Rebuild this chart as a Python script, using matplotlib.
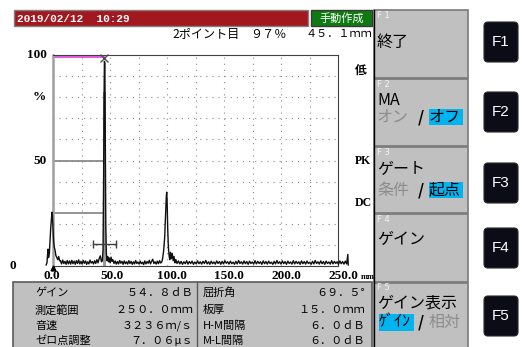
import matplotlib
matplotlib.use('Agg')
import matplotlib.pyplot as plt
from matplotlib.patches import Rectangle, FancyBboxPatch
from matplotlib.transforms import ScaledTranslation

plt.rcParams['font.family'] = ['Noto Sans CJK JP', 'DejaVu Sans']

# A-scan trace: beam path (mm) vs echo height (%)
trace_mm = [
    -6.0, -5.3, -4.8, -4.4, -3.9, -3.2, -2.6, -2.0, -1.4, -0.9, -0.5, 0.0, 0.5, 1.1, 1.8, 2.5, 3.3, 4.2, 5.0, 5.8,
    6.5, 7.5, 8.5, 9.5, 10.5, 11.5, 12.5, 13.5, 14.5, 15.5, 16.5, 17.5, 18.5, 19.5, 20.5, 21.5, 22.5, 23.5,
    24.5, 25.5, 26.5, 27.5, 28.5, 29.5, 30.5, 31.5, 32.5, 33.5, 34.5, 35.5, 36.5, 37.5, 38.5, 39.5, 40.5,
    41.5, 42.5, 43.3,
    43.9, 44.4, 44.8, 45.1, 45.5, 45.9, 46.3, 46.8, 47.4, 48.0, 48.7, 49.4, 50.1, 50.9, 51.7, 52.5,
    53.5, 54.5, 55.5, 56.5, 57.5, 58.5, 59.5, 60.5, 61.5, 62.5, 63.5, 64.5, 65.5, 66.5, 67.5, 68.5, 69.5,
    70.5, 71.5, 72.5, 73.5, 74.5, 75.5, 76.5, 77.5, 78.5, 79.5, 80.5, 81.5, 82.5, 83.5, 84.5, 85.5, 86.5,
    87.5, 88.5, 89.5, 90.5, 91.5, 92.5, 93.5, 94.5, 95.5,
    96.3, 97.2, 98.0, 98.7, 99.3, 99.7, 100.1, 100.6, 101.2, 101.8, 102.4, 103.1, 103.8, 104.6, 105.4,
    106.2, 107.0, 107.8,
    108.8, 110.0, 111.2, 112.4, 113.6, 114.8, 116.0, 117.2, 118.4, 119.6, 120.8, 122.0, 123.2, 124.4,
    125.6, 126.8, 128.0, 129.2, 130.4, 131.6, 132.8, 134.0, 135.2, 136.4, 137.6, 138.8, 140.0, 141.2,
    142.4, 143.6, 144.8, 146.0, 147.2, 148.4, 149.6, 150.8, 152.0, 153.2, 154.4, 155.6, 156.8, 158.0,
    159.2, 160.4, 161.6, 162.8, 164.0, 165.2, 166.4, 167.6, 168.8, 170.0, 171.2, 172.4, 173.6, 174.8,
    176.0, 177.2, 178.4, 179.6, 180.8, 182.0, 183.2, 184.4, 185.6, 186.8, 188.0, 189.2, 190.4, 191.6,
    192.8, 194.0, 195.2, 196.4, 197.6, 198.8, 200.0, 201.2, 202.4, 203.6, 204.8, 206.0, 207.2, 208.4,
    209.6, 210.8, 212.0, 213.2, 214.4, 215.6, 216.8, 218.0, 219.2, 220.4, 221.6, 222.8, 224.0, 225.2,
    226.4, 227.6, 228.8, 230.0, 231.2, 232.4, 233.6, 234.8, 236.0, 237.2, 238.4, 239.6, 240.8, 242.0,
    243.2, 244.4, 245.6, 246.8, 248.0, 249.2, 250.4, 251.6, 252.8, 254.0, 255.2, 256.4, 257.6, 258.6, 259.0,
]
trace_pct = [
    0.5, 1.5, 5.0, 8.0, 4.0, 6.0, 12.0, 18.0, 22.0, 25.5, 24.0, 18.0, 12.0, 9.0, 7.5, 5.0, 4.0, 3.0, 4.5, 2.5,
    2.5, 1.0, 2.8, 1.2, 2.2, 0.8, 2.6, 1.0, 2.4, 0.9, 2.7, 1.1, 2.3, 0.8, 2.5, 1.2, 2.9, 1.0,
    2.2, 0.9, 2.6, 1.3, 2.4, 0.8, 2.0, 1.0, 2.8, 1.4, 2.1, 1.0, 2.5, 1.2, 3.0, 1.5, 3.5,
    4.8, 2.0, 2.5,
    8.0, 40.0, 80.0, 97.0, 96.0, 60.0, 20.0, 6.0, 2.5, 4.5, 2.0, 3.8, 1.5, 4.2, 2.2, 3.0,
    1.2, 2.4, 0.9, 2.1, 1.0, 2.6, 1.3, 2.2, 0.8, 2.4, 1.1, 2.0, 0.9, 2.5, 1.2, 2.2, 0.8,
    2.0, 1.0, 2.6, 1.2, 1.9, 0.9, 2.3, 1.1, 1.8, 0.7, 2.4, 1.0, 2.1, 1.3, 2.7, 1.0, 2.2,
    3.2, 1.2, 2.0, 0.9, 2.3, 1.1, 2.5, 1.4, 2.0,
    4.0, 8.0, 14.0, 24.0, 32.0, 35.0, 31.0, 18.0, 9.0, 5.0, 3.0, 6.5, 3.5, 6.0, 2.5,
    4.5, 1.5, 3.0,
    1.2, 2.4, 1.0, 2.2, 0.8, 2.0, 1.1, 2.5, 0.9, 2.1, 1.2, 2.3, 0.8, 1.9,
    1.0, 2.4, 1.1, 2.0, 0.9, 2.2, 1.2, 2.6, 1.0, 2.0, 0.8, 2.3, 1.1, 1.9,
    0.9, 2.4, 1.2, 2.1, 0.8, 2.2, 1.0, 2.5, 1.3, 2.0, 0.9, 2.3, 1.1, 1.8,
    0.8, 2.2, 1.0, 2.6, 1.2, 2.0, 0.9, 2.4, 1.1, 2.1, 0.8, 2.3, 1.2, 1.9,
    0.9, 2.5, 1.0, 2.2, 1.2, 2.0, 0.8, 2.4, 1.1, 2.1, 0.9, 2.3, 1.2, 1.8,
    0.8, 2.2, 1.0, 2.6, 1.2, 2.0, 0.9, 2.4, 1.1, 2.1, 0.8, 2.3, 1.2, 1.9,
    0.9, 2.5, 1.0, 2.2, 1.2, 2.0, 0.8, 2.4, 1.1, 2.1, 0.9, 2.3, 1.2, 1.8,
    0.8, 2.2, 1.0, 2.6, 1.2, 2.0, 0.9, 2.4, 1.1, 2.1, 0.8, 2.3, 1.2, 1.9,
    0.9, 2.5, 1.0, 2.2, 1.2, 2.0, 0.8, 2.4, 1.1, 2.1, 0.9, 2.3, 1.0, 5.5, 0.5,
]

# DAC point being registered and the H / M / L reference levels
dac_point_mm = 45.1
dac_point_pct = 97
ref_levels = [99.0, 49.6, 24.9]
ref_colors = ['#e040e0', '#808080', '#808080']

# gate bar
gate_start_mm = 35.1
gate_end_mm = 55.3
gate_level = 10.4

x_ticks = [0, 50, 100, 150, 200, 250]
x_tick_labels = ['0.0', '50.0', '100.0', '150.0', '200.0', '250.0']

info_left_names = ['ゲイン', '測定範囲', '音速', 'ゼロ点調整']
info_left_values = ['５４．８ｄＢ', '２５０．０ｍｍ', '３２３６ｍ/ｓ', '７．０６μｓ']
info_right_names = ['屈折角', '板厚', 'H-M間隔', 'M-L間隔']
info_right_values = ['６９．５°', '１５．０ｍｍ', '６．０ｄＢ', '６．０ｄＢ']

fkey_names = ['F1', 'F2', 'F3', 'F4', 'F5']

W, H = 522, 347
fig = plt.figure(figsize=(W / 100, H / 100), dpi=100)
fig.patch.set_facecolor('white')

# screen frame drawn in pixel units
ui = fig.add_axes([0, 0, 1, 1])
ui.set_xlim(0, W)
ui.set_ylim(H, 0)
ui.axis('off')
ui.set_zorder(0)

PANEL = '#c0c0c0'
CYAN = '#00b4f0'
GRAYTXT = '#8c8c8c'

# title bar
ui.add_patch(Rectangle((14, 10), 294, 16, facecolor='#a3171f', edgecolor='#808080', lw=1))
ui.text(17, 18.5, '2019/02/12  10:29', color='white', fontsize=8, fontweight='bold',
        family='Liberation Mono', va='center', ha='left')
ui.add_patch(Rectangle((311, 10), 61, 16, facecolor='#0f7a12', edgecolor='#3a3a3a', lw=1))
ui.text(341.5, 18, '手動作成', color='white', fontsize=8, va='center', ha='center')

# status line
ui.text(172, 34, '2ポイント目', fontsize=8.7, va='center', ha='left')
ui.text(250, 34, '９７％', fontsize=8.7, va='center', ha='left')
ui.text(372, 34, '４５．１ｍｍ', fontsize=8, va='center', ha='right')

# right-hand indicators
ui.text(361, 71, '低', fontsize=8.5, fontweight='bold', va='center', ha='center')
ui.text(363, 161, 'PK', fontsize=8.5, fontweight='bold', family='Liberation Serif', va='center', ha='center')
ui.text(363, 203, 'DC', fontsize=8.5, fontweight='bold', family='Liberation Serif', va='center', ha='center')

# y labels
num_font = dict(family='Liberation Serif', fontweight='bold', fontsize=9.5)
ui.text(47, 55, '100', va='center', ha='right', **num_font)
ui.text(46, 97, '%', va='center', ha='right', **num_font)
ui.text(47, 161, '50', va='center', ha='right', **num_font)
ui.text(16, 266, '0', va='center', ha='right', **num_font)

# parameter panel
ui.add_patch(Rectangle((13, 282), 359, 70, facecolor=PANEL, edgecolor='#5a5a5a', lw=1.2))
ui.plot([197, 197], [282, 347], color='#5a5a5a', lw=1)
row_y = [293, 310, 326, 341]
for y, name, val in zip(row_y, info_left_names, info_left_values):
    ui.text(35, y, name, fontsize=8, va='center', ha='left')
    ui.text(193, y, val, fontsize=8, va='center', ha='right')
for y, name, val in zip(row_y, info_right_names, info_right_values):
    ui.text(203, y, name, fontsize=8, va='center', ha='left')
    ui.text(365, y, val, fontsize=8, va='center', ha='right')

# soft-key panel
sections = [(10, 78), (79, 146), (147, 213), (214, 282), (283, 352)]
for (top, bot), name in zip(sections, fkey_names):
    ui.add_patch(Rectangle((374, top), 94, bot - top, facecolor=PANEL, edgecolor='#7a7a7a', lw=1.2))
    ui.text(377, top + 5, name[0] + ' ' + name[1], fontsize=6, color='#f4f4f4', va='center', ha='left',
            family='DejaVu Sans')
ui.plot([374, 374], [10, 347], color='black', lw=1)

fk = dict(fontsize=11.5, va='center', ha='left')
ui.text(377, 42, '終了', **fk)
ui.text(377, 100, 'MA', **fk)
ui.text(377, 117, 'オン', color=GRAYTXT, **fk)
ui.text(418, 117, '/', fontweight='bold', **fk)
ui.add_patch(Rectangle((429, 109), 34, 16, facecolor=CYAN, edgecolor='none'))
ui.text(429, 117, 'オフ', **fk)
ui.text(377, 170, 'ゲート', **fk)
ui.text(377, 190, '条件', color=GRAYTXT, **fk)
ui.text(418, 190, '/', fontweight='bold', **fk)
ui.add_patch(Rectangle((429, 182), 34, 16, facecolor=CYAN, edgecolor='none'))
ui.text(429, 190, '起点', **fk)
ui.text(377, 240, 'ゲイン', **fk)
ui.text(377, 303, 'ゲイン表示', **fk)
ui.add_patch(Rectangle((379, 314), 35, 17, facecolor=CYAN, edgecolor='none'))
ui.text(379, 322, 'ｹﾞｲﾝ', **fk)
ui.text(418, 322, '/', fontweight='bold', **fk)
ui.text(429, 322, '相対', color=GRAYTXT, **fk)

# hardware keys
key_top = [22, 92, 163, 228, 296]
for top, name in zip(key_top, fkey_names):
    ui.add_patch(FancyBboxPatch((484, top), 34, 40, boxstyle='round,pad=0,rounding_size=4',
                                facecolor='#0c0c16', edgecolor='#2a2a30', lw=0.8))
    ui.text(501, top + 20, name, color='white', fontsize=11, family='Liberation Sans',
            va='center', ha='center')

# A-scan axes: 0-250 mm across, 0-100 %
ax = fig.add_axes([53 / W, 1 - 266 / H, 285 / W, 211 / H])
ax.set_zorder(1)
ax.patch.set_alpha(0)
ax.set_xlim(0, 250)
ax.set_ylim(0, 100)
ax.set_xticks([])
ax.set_yticks([])
for s in ['top', 'right', 'bottom']:
    ax.spines[s].set_color('#404040')
    ax.spines[s].set_linewidth(0.8)
ax.spines['left'].set_color('#a0a0a0')
ax.spines['left'].set_linewidth(1.8)

for gx in range(25, 250, 25):
    ax.axvline(gx, color='#8a8a8a', lw=0.8, ls=(0, (1, 4.5)), zorder=1)
for gy in range(10, 100, 10):
    ax.axhline(gy, color='#8a8a8a', lw=0.8, ls=(0, (1, 4.5)), zorder=1)

for lvl, col in zip(ref_levels, ref_colors):
    ax.plot([0, dac_point_mm], [lvl, lvl], color=col, lw=1.2, zorder=2)
ax.plot([dac_point_mm, dac_point_mm], [0, 82], color='#9a9a9a', lw=2.2, zorder=2)

ax.plot(trace_mm, trace_pct, color='#101010', lw=1.0, clip_on=False, zorder=3)
ax.plot([dac_point_mm], [98.5], marker='x', color='#505050', ms=6, mew=1.0, zorder=4, clip_on=False)

ax.plot([gate_start_mm, gate_end_mm], [gate_level, gate_level], color='#404040', lw=1,
        marker='|', ms=6, mew=1, zorder=4)
ax.plot([0], [-0.9], marker='^', color='black', ms=3.5, clip_on=False, zorder=4)

shift = ScaledTranslation(-10 / 100, 0, fig.dpi_scale_trans)
for t, lab in zip(x_ticks, x_tick_labels):
    ax.text(t, -4.7, lab, transform=ax.transData + shift, ha='left', va='center',
            family='Liberation Serif', fontweight='bold', fontsize=9.5)
ui.text(361, 277, 'mm', family='Liberation Serif', fontweight='bold', fontsize=6, va='center', ha='left')

fig.savefig('out.png', dpi=100)
